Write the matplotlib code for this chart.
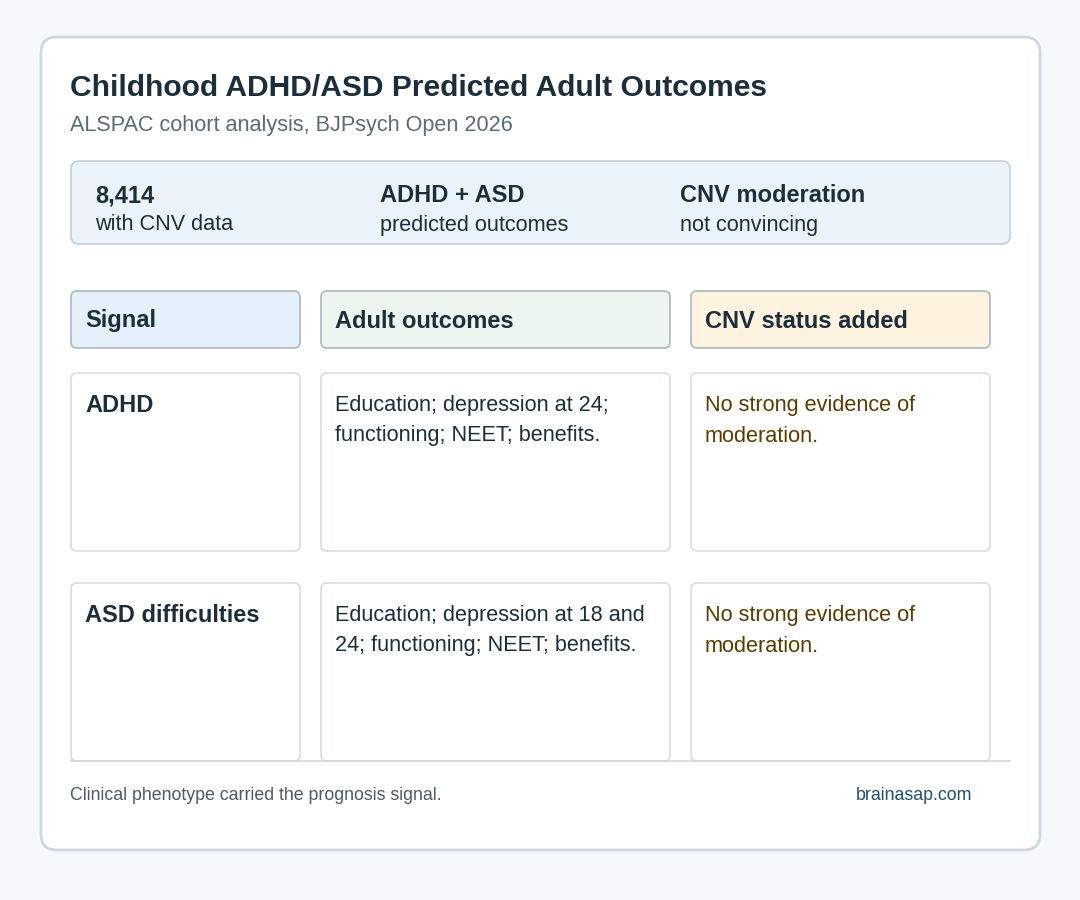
import matplotlib
matplotlib.use("Agg")
import matplotlib.pyplot as plt
from matplotlib.patches import FancyBboxPatch

title = "Childhood ADHD/ASD Predicted Adult Outcomes"
subtitle = "ALSPAC cohort analysis, BJPsych Open 2026"
stat_heads = ["8,414", "ADHD + ASD", "CNV moderation"]
stat_subs = ["with CNV data", "predicted outcomes", "not convincing"]
col_heads = ["Signal", "Adult outcomes", "CNV status added"]
signals = ["ADHD", "ASD difficulties"]
outcomes = [["Education; depression at 24;", "functioning; NEET; benefits."],
            ["Education; depression at 18 and", "24; functioning; NEET; benefits."]]
cnv = [["No strong evidence of", "moderation."],
       ["No strong evidence of", "moderation."]]
footer = "Clinical phenotype carried the prognosis signal."
source = "brainasap.com"

plt.rcParams['font.family'] = ['Liberation Sans', 'DejaVu Sans']
fig = plt.figure(figsize=(10.8, 9), dpi=100)
fig.patch.set_facecolor('#f5f9fc')
ax = fig.add_axes([0, 0, 1, 1])
ax.set_xlim(0, 1080); ax.set_ylim(900, 0); ax.axis('off')

def box(x0, y0, x1, y1, fc, ec, lw=1.2, r=6):
    ax.add_patch(FancyBboxPatch((x0, y0), x1-x0, y1-y0, boxstyle=f"round,pad=0,rounding_size={r}",
                                fc=fc, ec=ec, lw=lw))

box(41, 37, 1040, 850, 'white', '#cfd8e0', lw=2, r=16)
ax.text(70, 88, title, fontsize=21.6, fontweight='bold', color='#1a2e3b', va='center')
ax.text(70, 126, subtitle, fontsize=15.6, color='#5a6b78', va='center')

box(71, 161, 1010, 244, '#eaf3fa', '#bfd0dc', r=8)
for x, h, s in zip([95, 380, 680], stat_heads, stat_subs):
    ax.text(x, 196, h, fontsize=17, fontweight='bold', color='#1a2e3b', va='center')
    ax.text(x, 225, s, fontsize=15.6, color='#1a2e3b', va='center')

cols = [(71, 300), (321, 670), (691, 990)]
hfc = ['#e6f0fb', '#edf6ee', '#fff3e0']
for (x0, x1), h, fc in zip(cols, col_heads, hfc):
    box(x0, 291, x1, 348, fc, '#aab8c2')
    ax.text(x0 + 14, 321, h, fontsize=17, fontweight='bold', color='#1a2e3b', va='center')

rows = [(373, 551), (583, 761)]
for i, (y0, y1) in enumerate(rows):
    for (x0, x1) in cols:
        box(x0, y0, x1, y1, 'white', '#d5dde4')
    ax.text(cols[0][0] + 14, y0 + 33, signals[i], fontsize=17, fontweight='bold', color='#1a2e3b', va='center')
    for j, line in enumerate(outcomes[i]):
        ax.text(cols[1][0] + 14, y0 + 33 + 30*j, line, fontsize=15.6, color='#1a2e3b', va='center')
    for j, line in enumerate(cnv[i]):
        ax.text(cols[2][0] + 14, y0 + 33 + 30*j, line, fontsize=15.6, color='#5c3b00', va='center')

ax.plot([71, 1010], [761, 761], color='#cfd8e0', lw=1.2)
ax.text(70, 796, footer, fontsize=12.8, color='#4a5a66', va='center')
ax.text(972, 796, source, fontsize=12.8, color='#1e4e6e', va='center', ha='right')

fig.savefig('out.png', dpi=100, facecolor=fig.get_facecolor())
